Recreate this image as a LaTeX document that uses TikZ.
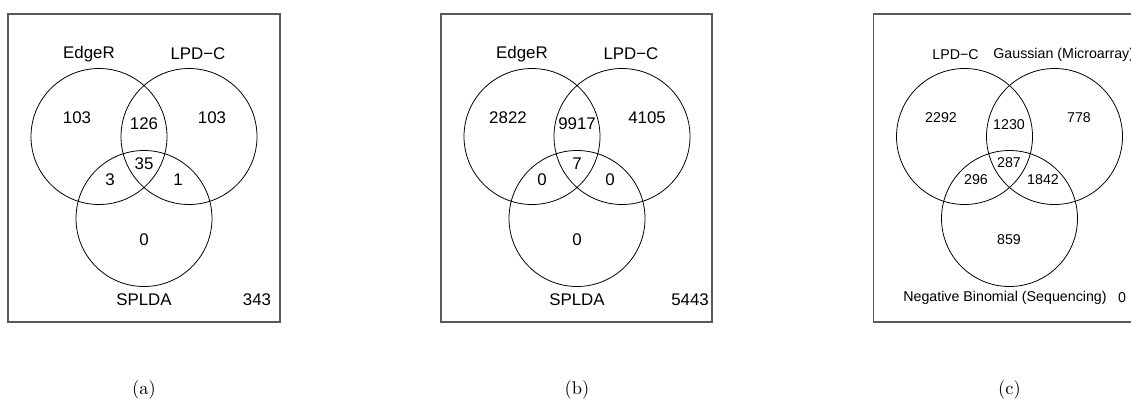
\documentclass[tikz,border=0pt]{standalone}
\usepackage{fontspec}
\usepackage{xcolor}
\usepackage{tikz}
\newfontfamily\rfont{Liberation Sans}
\definecolor{boxgray}{HTML}{5A5A5A}

\tikzset{
  vennbox/.style={draw=boxgray, line width=0.7pt},
  venncircle/.style={draw=black, line width=0.45pt},
  cnt/.style={font=\rfont\fontsize{9.6}{11}\selectfont, inner sep=0pt},
  smallcnt/.style={font=\rfont\fontsize{8.1}{9}\selectfont, inner sep=0pt},
  subcap/.style={font=\fontsize{10.5}{12}\selectfont, inner sep=0pt}
}

\begin{document}
\begin{tikzpicture}[x=0.02cm, y=-0.02cm]
  \clip (0,0) rectangle (1131,403);

  % (a) EdgeR / LPD-C / SPLDA
  \begin{scope}
    \draw[vennbox] (8,14) rectangle (280,322);
    \draw[venncircle] (99,136.5) circle [radius=68];
    \draw[venncircle] (189,136.5) circle [radius=68];
    \draw[venncircle] (144,218.5) circle [radius=68];
    \node[cnt] (edgera) at (89,54) {EdgeR};
    \node[cnt] (lpdca) at (198,54) {LPD−C};
    \node[cnt] (spldaa) at (144,300) {SPLDA};
    \node[cnt] (ea) at (77,118) {103};
    \node[cnt] (la) at (212,118) {103};
    \node[cnt] (ela) at (144,124) {126};
    \node[cnt] (elsa) at (144,164) {35};
    \node[cnt] (esa) at (110,180) {3};
    \node[cnt] (lsa) at (178,180) {1};
    \node[cnt] (sa) at (144,240) {0};
    \node[cnt] (resta) at (257,300) {343};
  \end{scope}
  \node[subcap] (capa) at (144,390) {(a)};

  % (b) EdgeR / LPD-C / SPLDA
  \begin{scope}[shift={(433,0)}]
    \draw[vennbox] (8,14) rectangle (279,322);
    \draw[venncircle] (99,136.5) circle [radius=68];
    \draw[venncircle] (189,136.5) circle [radius=68];
    \draw[venncircle] (144,218.5) circle [radius=68];
    \node[cnt] (edgerb) at (89,54) {EdgeR};
    \node[cnt] (lpdcb) at (198,54) {LPD−C};
    \node[cnt] (spldab) at (144,300) {SPLDA};
    \node[cnt] (eb) at (75,118) {2822};
    \node[cnt] (lb) at (214,118) {4105};
    \node[cnt] (elb) at (144,124) {9917};
    \node[cnt] (elsb) at (144,164) {7};
    \node[cnt] (esb) at (109,180) {0};
    \node[cnt] (lsb) at (177,180) {0};
    \node[cnt] (sb) at (144,240) {0};
    \node[cnt] (restb) at (257,300) {5443};
  \end{scope}
  \node[subcap] (capb) at (577,390) {(b)};

  % (c) LPD-C / Gaussian / Negative Binomial
  \begin{scope}[shift={(865.5,0)}]
    \draw[vennbox] (8,14) rectangle (280,322);
    \draw[venncircle] (99,136.5) circle [radius=68];
    \draw[venncircle] (189,136.5) circle [radius=68];
    \draw[venncircle] (144,218.5) circle [radius=68];
    \node[smallcnt] (lpdcc) at (90,55) {LPD−C};
    \node[smallcnt, anchor=west] (gaussc) at (127.5,55) {Gaussian (Microarray)};
    \node[smallcnt] (negbinc) at (139.5,298) {Negative Binomial (Sequencing)};
    \node[smallcnt] (lc) at (75.5,118) {2292};
    \node[smallcnt] (gc) at (213.5,118) {778};
    \node[smallcnt] (lgc) at (143.5,125) {1230};
    \node[smallcnt] (lgnc) at (143.5,163) {287};
    \node[smallcnt] (lnc) at (110.5,180) {296};
    \node[smallcnt] (gnc) at (177.5,180) {1842};
    \node[smallcnt] (nc) at (143.5,240) {859};
    \node[smallcnt] (restc) at (256.5,298) {0};
  \end{scope}
  \node[subcap] (capc) at (1009.5,390) {(c)};
\end{tikzpicture}
\end{document}
